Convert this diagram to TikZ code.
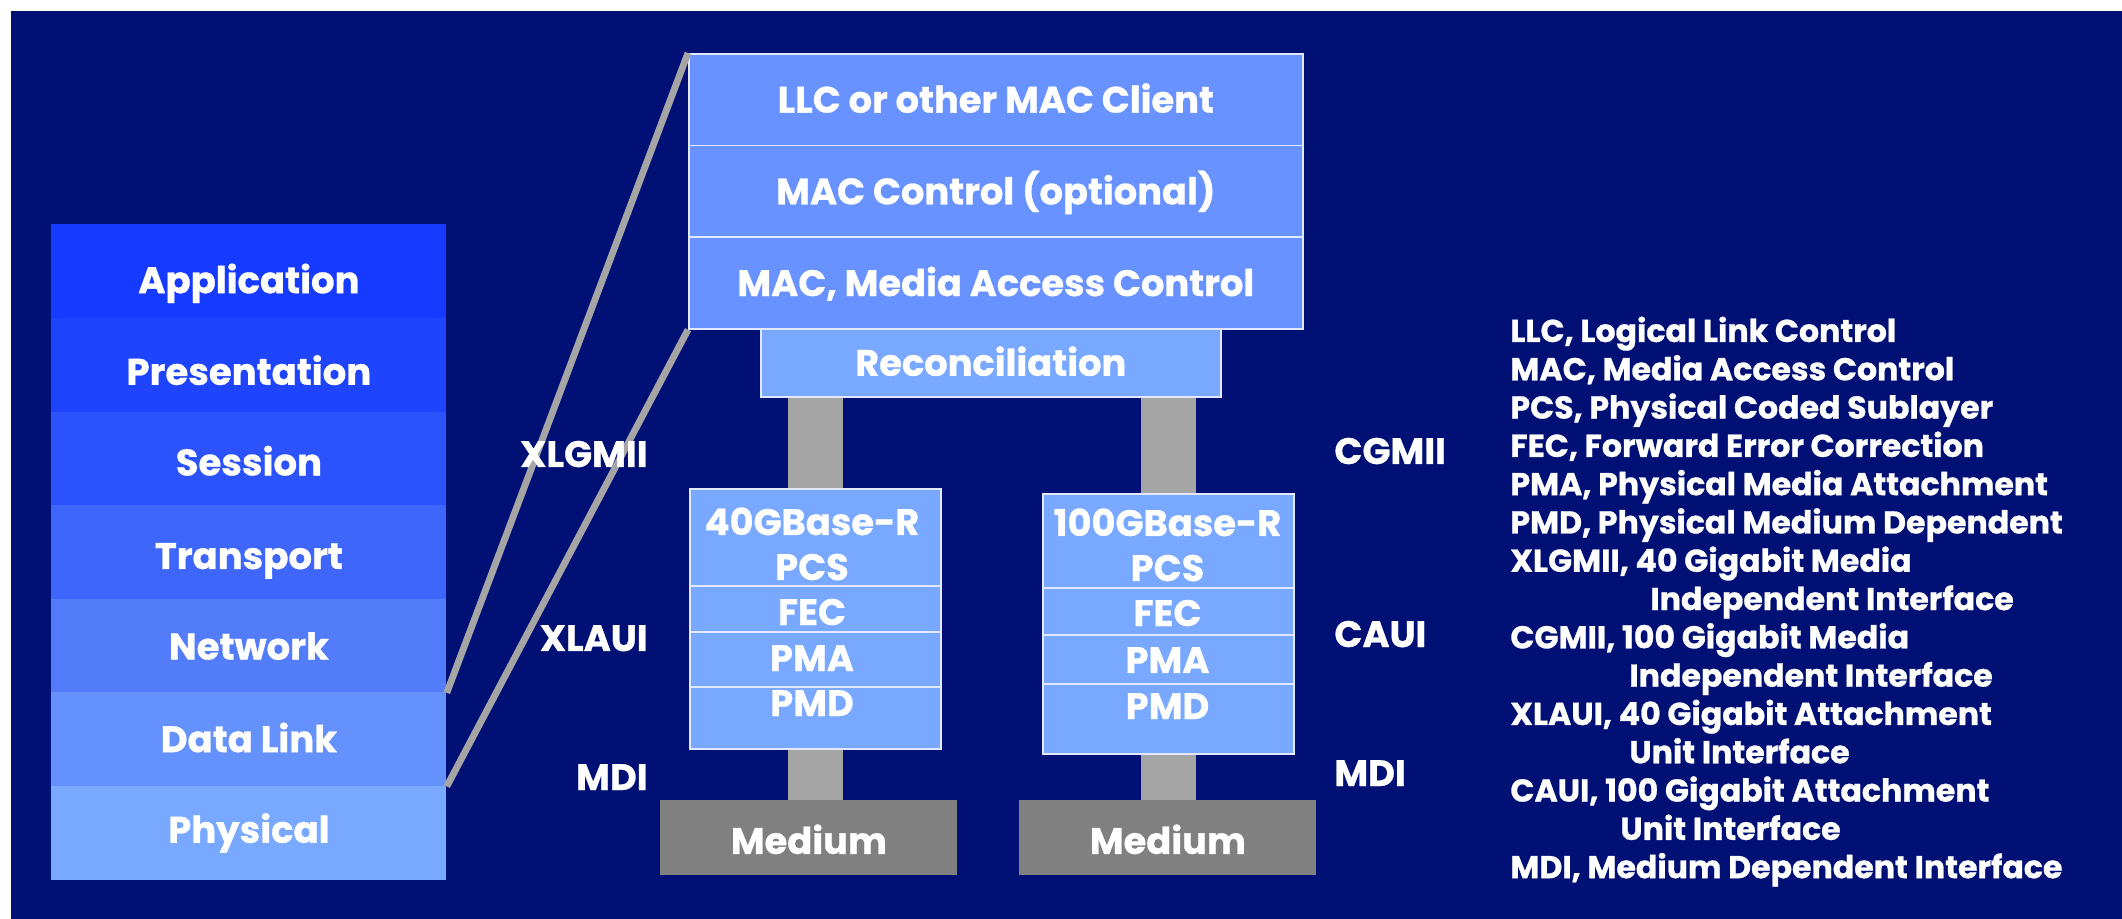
\documentclass[tikz,border=0pt]{standalone}
\usepackage{fontspec}
\setmainfont{Poppins}[BoldFeatures={FakeBold=0.8}]
\usetikzlibrary{calc}
\definecolor{navy}{RGB}{0,16,117}
\definecolor{osiA}{RGB}{22,58,255}
\definecolor{osiB}{RGB}{30,68,253}
\definecolor{osiC}{RGB}{44,83,251}
\definecolor{osiD}{RGB}{62,102,250}
\definecolor{osiE}{RGB}{82,124,250}
\definecolor{osiF}{RGB}{100,145,252}
\definecolor{osiG}{RGB}{120,168,255}
\definecolor{macblue}{RGB}{103,146,255}
\definecolor{subblue}{RGB}{120,168,255}
\definecolor{edge}{RGB}{225,232,255}
\definecolor{medgray}{RGB}{128,128,128}
\definecolor{bargray}{RGB}{165,165,165}
\newcommand\osifont{\bfseries\fontsize{18.5}{22}\selectfont}
\newcommand\boxfont{\bfseries\fontsize{18.4}{22}\selectfont}
\newcommand\legfont{\bfseries\fontsize{15.8}{19}\selectfont}

\begin{document}
\begin{tikzpicture}[x=0.5pt, y=-0.5pt,
		cell/.style 2 args={anchor=north west, inner sep=0pt, minimum width=#1*0.5pt, minimum height=#2*0.5pt, text=white},
		osi/.style={cell={395}{93.6}, font=\osifont, text depth=0pt},
		maclayer/.style={cell={614}{91.7}, fill=macblue, draw=edge, line width=0.8pt, font=\boxfont, text height=13pt, text depth=0pt},
		phybox/.style={cell={251}{260}, fill=subblue, draw=edge, line width=0.8pt},
		medium/.style={cell={297}{75}, fill=medgray, font=\boxfont, text height=16pt, text depth=0pt},
		word/.style={inner sep=0pt, text=white, font=\boxfont, text height=13pt, text depth=0pt},
		legend/.style={anchor=base west, inner sep=0pt, text=white, font=\legfont},
		bar/.style={draw=bargray, line width=27.5pt},
		link/.style={draw=bargray, line width=3.4pt}]
			%%%%% START %%%%%
			\useasboundingbox (0,0) rectangle (2122,919);
			\fill[white] (0,0) rectangle (2122,919);
			\fill[navy] (11,11) rectangle (2122,919);
			
			% OSI stack (last field: text height, to set the word a bit low in the upper rows)
			\foreach \name/\txt/\col/\th [count=\i] in {app/Application/osiA/22, pres/Presentation/osiB/20, sess/Session/osiC/17, trans/Transport/osiD/17, net/Network/osiE/14, dl/Data Link/osiF/13, phy/Physical/osiG/10}
				\node[osi, fill=\col, text height=\th pt] (\name) at (51, {224+(\i-1)*93.6}) {\txt};
			
			% MAC stack
			\node[maclayer] (llc) at (688, 53) {LLC or other MAC Client};
			\node[maclayer] (macctl) at (688, 144.7) {MAC Control (optional)};
			\node[maclayer] (mac) at (688, 236.4) {MAC, Media Access Control};
			\node[cell={460}{68}, fill=subblue, draw=edge, line width=0.8pt, font=\boxfont, text height=13pt, text depth=0pt] (recon) at (760, 328) {Reconciliation};
			
			\draw[link] (net.south east) -- (llc.north west);
			\draw[link] (dl.south east) -- (mac.south west);
			
			% 40G
			\node[phybox] (x40) at (689, 488) {};
			\foreach \y in {586, 632, 687}
				\draw[edge, line width=0.8pt] (x40.west |- 0,\y) -- (x40.east |- 0,\y);
			\foreach \y/\txt [count=\i] in {522/40GBase-R, 567/PCS, 612/FEC, 658/PMA, 703/PMD}
				\node[word] (x40t\i) at (812, \y) {\txt};
			\node[medium] (med40) at (660, 800) {Medium};
			\draw[bar] (x40.north) -- (x40.north |- recon.south);
			\draw[bar] (x40.south) -- (x40.south |- med40.north);
			
			% 100G
			\node[phybox] (c100) at (1042, 493) {};
			\foreach \y in {588, 635, 684}
				\draw[edge, line width=0.8pt] (c100.west |- 0,\y) -- (c100.east |- 0,\y);
			\foreach \y/\txt [count=\i] in {523/100GBase-R, 568/PCS, 613/FEC, 660/PMA, 706/PMD}
				\node[word] (c100t\i) at (1167.5, \y) {\txt};
			\node[medium] (med100) at (1019, 800) {Medium};
			\draw[bar] (c100.north) -- (c100.north |- recon.south);
			\draw[bar] (c100.south) -- (c100.south |- med100.north);
			
			% interface names
			\node[word, anchor=east] (xlgmii) at (648, 454) {XLGMII};
			\node[word, anchor=east] (xlaui) at (648, 638) {XLAUI};
			\node[word, anchor=east] (mdiA) at (648, 777) {MDI};
			\node[word, anchor=west] (cgmii) at (1334, 451) {CGMII};
			\node[word, anchor=west] (caui) at (1334, 634) {CAUI};
			\node[word, anchor=west] (mdiB) at (1334, 773) {MDI};
			
			% legend
			\foreach \txt [count=\i] in {{LLC, Logical Link Control}, {MAC, Media Access Control}, {PCS, Physical Coded Sublayer}, {FEC, Forward Error Correction}, {PMA, Physical Media Attachment}, {PMD, Physical Medium Dependent}, {XLGMII, 40 Gigabit Media}, {\hspace*{70pt}Independent Interface}, {CGMII, 100 Gigabit Media}, {\hspace*{59.5pt}Independent Interface}, {XLAUI, 40 Gigabit Attachment}, {\hspace*{59.5pt}Unit Interface}, {CAUI, 100 Gigabit Attachment}, {\hspace*{55pt}Unit Interface}, {MDI, Medium Dependent Interface}}
				\node[legend] (leg\i) at (1510, {342+(\i-1)*38.3}) {\txt};
			%%%%% END %%%%%
\end{tikzpicture}
\end{document}
